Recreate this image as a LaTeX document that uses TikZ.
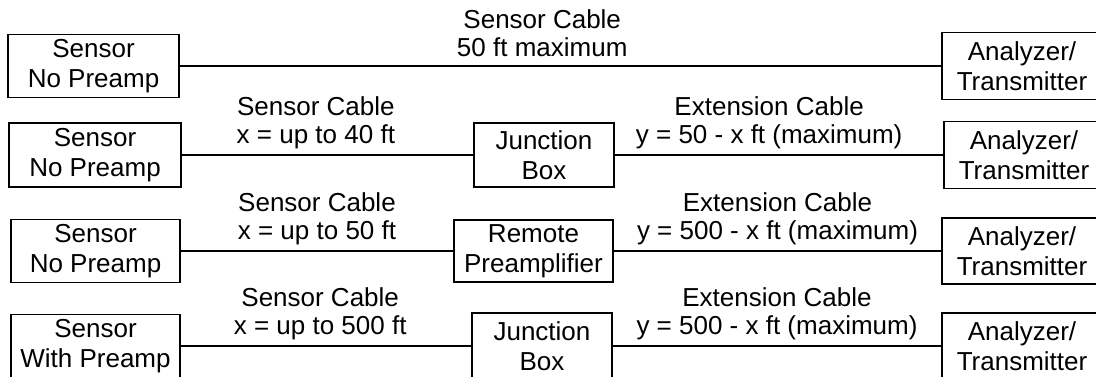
\documentclass[tikz,border=0pt]{standalone}
\usepackage{fontspec}
\setmainfont{Liberation Sans}

\begin{document}
\begin{tikzpicture}[x=1pt, y=-1pt, line width=1.8pt,
    box/.style={draw, inner sep=0pt, align=center, minimum height=64pt,
      font=\fontsize{26}{30}\selectfont},
    cable/.style={anchor=south, align=center, inner sep=0pt, text depth=0pt,
      yshift=11pt, font=\fontsize{26}{28}\selectfont}]
    \clip (0,0) rectangle (1096,376);
    % sensor without preamp, straight to the analyzer
    \node [box, minimum width=171pt, minimum height=63pt] (S1) at (93.5,66) {Sensor\\No Preamp};
    \node [box, minimum width=160pt, minimum height=67pt] (A1) at (1022,66) {Analyzer/\\Transmitter};
    \draw (S1) to node [cable, pos=0.476, yshift=-2pt] {Sensor Cable\\50 ft maximum} (A1);
    % sensor without preamp, junction box
    \node [box, minimum width=172pt] (S2) at (95,155) {Sensor\\No Preamp};
    \node [box, minimum width=140pt] (J2) at (544,155) {Junction\\Box};
    \node [box, minimum width=160pt, minimum height=67pt] (A2) at (1024,155) {Analyzer/\\Transmitter};
    \draw (S2) to node [cable, pos=0.46] {Sensor Cable\\x = up to 40 ft} (J2);
    \draw (J2) to node [cable, pos=0.47] {Extension Cable\\y = 50 - x ft (maximum)} (A2);
    % sensor without preamp, remote preamplifier
    \node [box, minimum width=169pt, minimum height=63pt] (S3) at (95.5,251) {Sensor\\No Preamp};
    \node [box, minimum width=159pt, minimum height=62pt] (R3) at (533.5,251) {Remote\\Preamplifier};
    \node [box, minimum width=160pt, minimum height=66pt] (A3) at (1022,251) {Analyzer/\\Transmitter};
    \draw (S3) to node [cable] {Sensor Cable\\x = up to 50 ft} (R3);
    \draw (R3) to node [cable] {Extension Cable\\y = 500 - x ft (maximum)} (A3);
    % sensor with preamp, junction box
    \node [box, minimum width=169pt, minimum height=63pt] (S4) at (95.5,346) {Sensor\\With Preamp};
    \node [box, minimum width=140pt, minimum height=66pt] (J4) at (542,346) {Junction\\Box};
    \node [box, minimum width=160pt, minimum height=66pt] (A4) at (1022,346) {Analyzer/\\Transmitter};
    \draw (S4) to node [cable, pos=0.48] {Sensor Cable\\x = up to 500 ft} (J4);
    \draw (J4) to node [cable] {Extension Cable\\y = 500 - x ft (maximum)} (A4);
\end{tikzpicture}
\end{document}
